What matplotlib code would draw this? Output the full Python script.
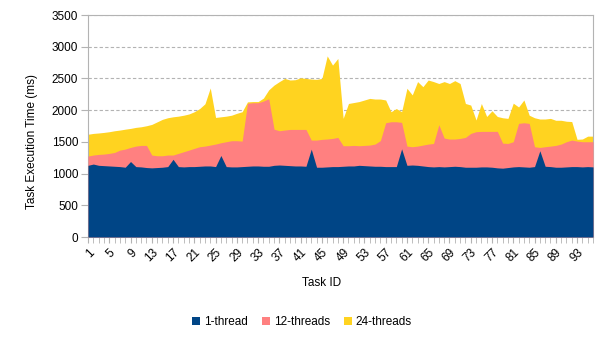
import matplotlib
matplotlib.use("Agg")
import matplotlib.pyplot as plt
from matplotlib.patches import Patch
import numpy as np

plt.rcParams['font.family'] = ['Liberation Sans', 'DejaVu Sans']

task_ids = list(range(1, 97))

one_thread = [1130, 1150, 1130, 1125, 1120, 1115, 1110, 1100, 1190, 1110,
              1105, 1095, 1090, 1095, 1100, 1110, 1225, 1110, 1105, 1110,
              1110, 1115, 1120, 1120, 1110, 1285, 1110, 1105, 1105, 1110,
              1115, 1120, 1120, 1115, 1115, 1130, 1135, 1130, 1125, 1120,
              1120, 1115, 1385, 1100, 1100, 1105, 1110, 1110, 1115, 1120,
              1120, 1130, 1125, 1120, 1115, 1115, 1110, 1110, 1110, 1390,
              1130, 1135, 1130, 1120, 1110, 1105, 1110, 1105, 1110, 1115,
              1110, 1100, 1100, 1100, 1105, 1105, 1100, 1090, 1085, 1095,
              1105, 1110, 1105, 1100, 1110, 1360, 1115, 1110, 1100, 1100,
              1105, 1110, 1110, 1105, 1110, 1105]

twelve_threads = [1276, 1292, 1302, 1307, 1318, 1333, 1370, 1386, 1412, 1433,
                  1444, 1444, 1292, 1281, 1281, 1292, 1292, 1318, 1344, 1370,
                  1397, 1423, 1433, 1449, 1465, 1486, 1502, 1518, 1518, 1512,
                  2107, 2117, 2117, 2143, 2180, 1700, 1675, 1686, 1696, 1696,
                  1696, 1696, 1528, 1528, 1539, 1545, 1554, 1570, 1439, 1439,
                  1444, 1439, 1444, 1449, 1465, 1520, 1801, 1817, 1817, 1807,
                  1433, 1423, 1433, 1449, 1465, 1475, 1770, 1560, 1544, 1544,
                  1554, 1570, 1633, 1660, 1665, 1665, 1665, 1665, 1480, 1475,
                  1502, 1791, 1801, 1791, 1423, 1412, 1423, 1433, 1444, 1465,
                  1502, 1528, 1512, 1502, 1502, 1502]

twentyfour_threads = [1620, 1633, 1640, 1649, 1660, 1675, 1686, 1700, 1712, 1728,
                      1738, 1754, 1775, 1815, 1855, 1880, 1895, 1905, 1920, 1940,
                      1975, 2025, 2100, 2350, 1885, 1895, 1905, 1920, 1950, 1975,
                      2130, 2135, 2135, 2190, 2320, 2395, 2450, 2500, 2475, 2480,
                      2510, 2500, 2490, 2485, 2500, 2855, 2710, 2815, 1870, 2105,
                      2120, 2135, 2160, 2185, 2175, 2175, 2160, 1975, 2025, 1975,
                      2345, 2240, 2450, 2370, 2475, 2450, 2420, 2450, 2420, 2465,
                      2420, 2105, 2080, 1845, 2105, 1900, 1990, 1900, 1880, 1870,
                      2110, 2050, 2160, 1920, 1880, 1860, 1860, 1870, 1840, 1840,
                      1825, 1820, 1540, 1545, 1590, 1590]

series_names = ['1-thread', '12-threads', '24-threads']
colors = ['#004586', '#ff8080', '#ffd320']
tick_labels = [str(t) for t in task_ids if (t - 1) % 4 == 0]

fig = plt.figure(figsize=(6.05, 3.4), dpi=100)
ax = fig.add_axes([88/605, 1-237/340, (593-88)/605, (237-15)/340])

x = np.array(task_ids)
ax.fill_between(x, 0, twentyfour_threads, color=colors[2], linewidth=0, zorder=2)
ax.fill_between(x, 0, twelve_threads, color=colors[1], linewidth=0, zorder=3)
ax.fill_between(x, 0, one_thread, color=colors[0], linewidth=0, zorder=4)

ax.set_xlim(1, 96)
ax.set_ylim(0, 3500)
ax.set_yticks(np.arange(0, 3501, 500))
ax.yaxis.grid(True, color='#b3b3b3', linestyle=(0, (3, 2)), linewidth=0.8, zorder=1)
ax.set_axisbelow(True)

ax.set_xticks(x, minor=True)
major = [t for t in task_ids if (t - 1) % 4 == 0]
ax.set_xticks(major)
ax.set_xticklabels(tick_labels, rotation=45, ha='right', va='top', rotation_mode='anchor')
ax.tick_params(axis='x', which='both', length=4, color='#b3b3b3', labelsize=8.5, pad=3)
ax.tick_params(axis='y', length=5, color='#b3b3b3', labelsize=8.5, pad=2)

for s in ax.spines.values():
    s.set_color('#b3b3b3')
    s.set_linewidth(0.8)

fig.text(32/605, 1-141/340, 'Task Execution Time (ms)', rotation=90,
         ha='center', va='center', fontsize=8.5)
fig.text(322/605, 1-283/340, 'Task ID', ha='center', va='center', fontsize=8.5)

handles = [Patch(facecolor=c, edgecolor='none') for c in colors]
fig.legend(handles, series_names, loc='center', bbox_to_anchor=(302/605, 1-322/340),
           ncol=3, frameon=False, fontsize=8.5, handlelength=0.7, handleheight=0.7,
           handletextpad=0.3, columnspacing=1.2)

fig.savefig('out.png', dpi=100)
